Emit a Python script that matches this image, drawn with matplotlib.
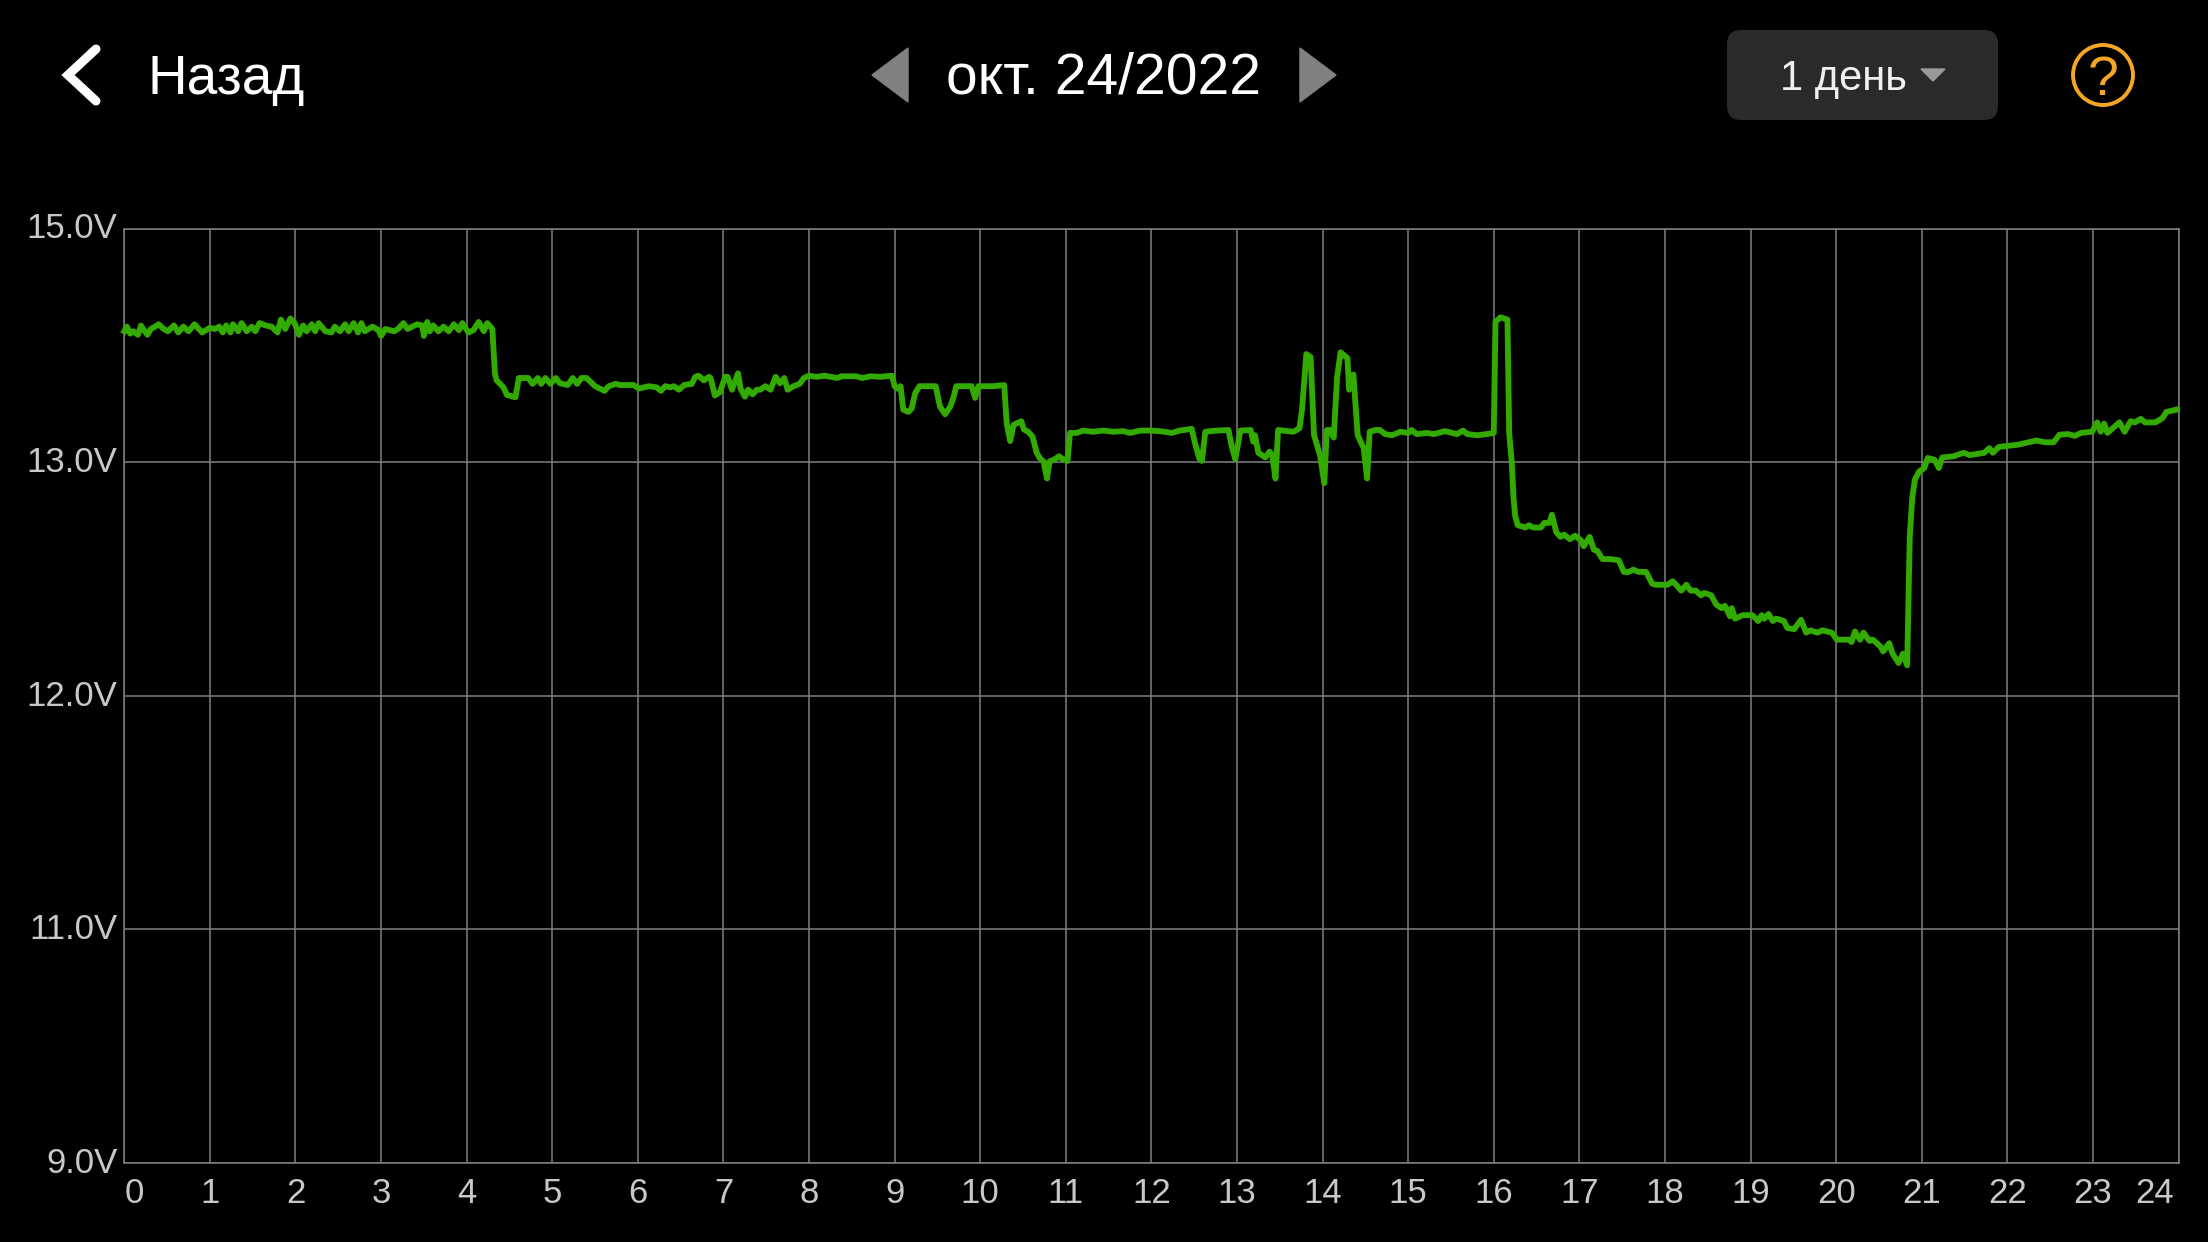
import numpy as np
import matplotlib
matplotlib.use('Agg')
import matplotlib.pyplot as plt
from matplotlib.patches import Circle, FancyBboxPatch, Polygon
from matplotlib.transforms import ScaledTranslation

plt.rcParams['font.family'] = ['Liberation Sans', 'DejaVu Sans']

# battery voltage over the day as (hour, volts)
part_0_4 = [(0.0,14.12),(.03,14.16),(.07,14.10),(.105,14.12),(.16,14.09),(.195,14.17),(.22,14.14),(.27,14.09),
    (.31,14.14),(.36,14.16),(.40,14.18),(.46,14.14),(.51,14.12),(.58,14.17),(.63,14.11),(.69,14.16),(.75,14.12),
    (.82,14.18),(.91,14.11),(1.00,14.15),(1.06,14.14),(1.11,14.16),(1.15,14.11),(1.19,14.17),(1.24,14.11),
    (1.27,14.18),(1.33,14.12),(1.37,14.19),(1.43,14.12),(1.49,14.16),(1.53,14.12),(1.58,14.19),(1.65,14.17),
    (1.72,14.16),(1.79,14.11),(1.83,14.22),(1.88,14.14),(1.94,14.23),(1.99,14.19),(2.04,14.09),(2.09,14.17),
    (2.13,14.12),(2.19,14.18),(2.23,14.12),(2.27,14.19),(2.35,14.12),(2.42,14.11),(2.46,14.16),(2.52,14.12),
    (2.58,14.18),(2.62,14.12),(2.68,14.19),(2.73,14.11),(2.77,14.19),(2.81,14.12),(2.90,14.16),(2.97,14.13),
    (3.00,14.08),(3.05,14.14),(3.15,14.12),(3.20,14.14),(3.26,14.19),(3.31,14.14),(3.42,14.18),(3.48,14.17),
    (3.50,14.08),(3.54,14.20),(3.57,14.12),(3.61,14.17),(3.67,14.12),(3.73,14.16),(3.79,14.12),(3.85,14.18),
    (3.91,14.13),(3.95,14.19),(4.02,14.11),(4.08,14.13),(4.14,14.20),(4.20,14.12),(4.24,14.19),(4.30,14.14)]

part_4_9 = [(4.33,13.76),(4.35,13.70),(4.43,13.64),(4.47,13.575),(4.57,13.555),(4.61,13.72),(4.72,13.72),(4.77,13.67),
    (4.83,13.72),(4.87,13.67),(4.92,13.72),(4.98,13.67),(5.04,13.72),(5.09,13.675),(5.18,13.66),(5.24,13.72),
    (5.29,13.67),(5.34,13.72),(5.40,13.72),(5.50,13.65),(5.61,13.61),(5.66,13.65),(5.74,13.67),(5.79,13.66),
    (5.95,13.66),(6.01,13.63),(6.13,13.65),(6.22,13.64),(6.27,13.61),(6.32,13.65),(6.38,13.64),(6.42,13.65),
    (6.48,13.62),(6.54,13.66),(6.63,13.67),(6.67,13.73),(6.71,13.74),(6.77,13.70),(6.83,13.73),(6.85,13.72),
    (6.90,13.57),(6.96,13.60),(7.02,13.73),(7.05,13.73),(7.10,13.62),(7.17,13.76),(7.20,13.63),(7.25,13.56),
    (7.29,13.62),(7.34,13.58),(7.39,13.62),(7.43,13.62),(7.49,13.65),(7.55,13.62),(7.61,13.73),(7.66,13.675),
    (7.71,13.72),(7.75,13.62),(7.82,13.65),(7.89,13.67),(7.94,13.72),(8.0,13.74),(8.09,13.73),(8.18,13.74),
    (8.33,13.72),(8.38,13.735),(8.55,13.735),(8.62,13.72),(8.72,13.735),(8.83,13.73),(8.97,13.74)]

part_9_13 = [(9.0,13.65),(9.03,13.63),(9.07,13.65),(9.10,13.45),(9.16,13.43),(9.20,13.46),(9.24,13.59),(9.29,13.65),
    (9.36,13.65),(9.48,13.65),(9.53,13.475),(9.59,13.41),(9.65,13.475),(9.69,13.56),(9.72,13.65),(9.90,13.65),
    (9.94,13.55),(9.98,13.65),(10.15,13.65),(10.28,13.66),(10.31,13.33),(10.35,13.18),(10.39,13.32),(10.48,13.35),
    (10.51,13.28),(10.56,13.26),(10.61,13.22),(10.66,13.08),(10.70,13.03),(10.74,13.005),(10.78,12.93),(10.81,13.005),
    (10.87,13.025),(10.92,13.05),(10.97,13.025),(11.02,13.01),(11.05,13.25),(11.13,13.25),(11.20,13.27),(11.32,13.26),
    (11.44,13.27),(11.55,13.26),(11.67,13.265),(11.75,13.25),(11.87,13.27),(11.98,13.27),(12.10,13.265),(12.24,13.25),
    (12.33,13.27),(12.47,13.285),(12.51,13.16),(12.56,13.03),(12.59,13.01),(12.63,13.26),(12.76,13.27),(12.90,13.275),
    (12.94,13.13),(12.98,13.025)]

part_13_16 = [(13.04,13.27),(13.16,13.275),(13.19,13.175),(13.21,13.23),(13.25,13.08),(13.33,13.04),(13.38,13.09),
    (13.41,13.06),(13.45,12.93),(13.48,13.275),(13.66,13.26),(13.73,13.29),(13.76,13.45),(13.81,13.925),(13.86,13.90),
    (13.90,13.23),(13.97,13.06),(14.02,12.91),(14.05,13.275),(14.09,13.275),(14.13,13.21),(14.17,13.73),(14.21,13.94),
    (14.29,13.89),(14.31,13.62),(14.36,13.75),(14.41,13.23),(14.48,13.12),(14.52,12.93),(14.55,13.26),(14.62,13.275),
    (14.67,13.275),(14.73,13.24),(14.81,13.23),(14.91,13.26),(15.0,13.25),(15.04,13.275),(15.10,13.24),(15.22,13.25),
    (15.30,13.24),(15.43,13.265),(15.57,13.24),(15.64,13.27),(15.69,13.24),(15.81,13.23),(15.92,13.24),(16.0,13.25)]

part_16_21 = [(16.02,14.20),(16.08,14.24),(16.16,14.22),(16.18,13.25),(16.21,13.0),(16.23,12.85),(16.25,12.77),
    (16.28,12.73),(16.37,12.72),(16.41,12.73),(16.46,12.72),(16.55,12.72),(16.59,12.74),(16.65,12.74),(16.68,12.775),
    (16.73,12.70),(16.78,12.68),(16.82,12.69),(16.89,12.67),(16.95,12.685),(17.02,12.665),(17.05,12.64),(17.12,12.68),
    (17.17,12.625),(17.21,12.62),(17.27,12.585),(17.36,12.585),(17.46,12.58),(17.52,12.53),(17.58,12.53),(17.63,12.54),
    (17.69,12.53),(17.78,12.53),(17.85,12.48),(17.89,12.475),(18.03,12.475),(18.09,12.49),(18.13,12.475),(18.19,12.45),
    (18.25,12.475),(18.30,12.45),(18.36,12.45),(18.42,12.43),(18.46,12.44),(18.54,12.43),(18.60,12.39),(18.66,12.375),
    (18.70,12.385),(18.76,12.34),(18.78,12.375),(18.82,12.33),(18.91,12.345),(19.02,12.345),(19.09,12.32),(19.13,12.345),
    (19.16,12.33),(19.21,12.35),(19.26,12.32),(19.30,12.33),(19.39,12.32),(19.43,12.29),(19.51,12.285),(19.59,12.325),
    (19.65,12.27),(19.70,12.28),(19.78,12.27),(19.84,12.28),(19.95,12.27),(20.01,12.24),(20.15,12.24),(20.18,12.23),
    (20.22,12.275),(20.28,12.24),(20.32,12.27),(20.39,12.235),(20.43,12.24),(20.52,12.21),(20.55,12.19),(20.62,12.225),
    (20.66,12.18),(20.73,12.14),(20.78,12.18),(20.83,12.13)]

part_21_24 = [(20.86,12.68),(20.89,12.85),(20.92,12.925),(20.97,12.96),(21.03,12.975),(21.07,13.035),(21.15,13.02),
    (21.20,12.975),(21.24,13.04),(21.37,13.05),(21.49,13.08),(21.56,13.06),(21.73,13.08),(21.79,13.12),(21.83,13.08),
    (21.90,13.13),(22.13,13.15),(22.34,13.185),(22.44,13.17),(22.54,13.17),(22.61,13.235),(22.71,13.24),(22.79,13.225),
    (22.86,13.25),(22.99,13.26),(23.05,13.34),(23.09,13.26),(23.13,13.33),(23.17,13.25),(23.31,13.34),(23.37,13.26),
    (23.44,13.35),(23.49,13.34),(23.56,13.37),(23.61,13.34),(23.73,13.34),(23.81,13.375),(23.86,13.43),(23.98,13.45)]

parts = [part_0_4, part_4_9, part_9_13, part_13_16, part_16_21, part_21_24]
hours = [p[0] for part in parts for p in part]
volts = [p[1] for part in parts for p in part]

hour_ticks = list(range(25))
volt_ticks = [9.0, 11.0, 12.0, 13.0, 15.0]

W, H = 2208, 1242
fig = plt.figure(figsize=(W / 100, H / 100), dpi=100, facecolor='black')

# plot area in pixels of the picture
left, right, top, bottom = 124.3, 2178.5, 228.5, 1163

ax = fig.add_axes([left / W, 1 - bottom / H, (right - left) / W, (bottom - top) / H], facecolor='black')

# the app spaces its voltage ticks evenly, so the y scale is piecewise
steps = list(range(len(volt_ticks)))
ax.set_yscale('function', functions=(lambda v: np.interp(v, volt_ticks, steps),
                                     lambda s: np.interp(s, steps, volt_ticks)))
ax.set_xlim(0, 24)
ax.set_ylim(9, 15)
ax.set_xticks(hour_ticks)
ax.set_xticklabels([str(h) for h in hour_ticks])
ax.set_yticks(volt_ticks)
ax.set_yticklabels(['%.1fV' % v for v in volt_ticks])
ax.minorticks_off()
ax.grid(True, color='#7f7f7f', linewidth=1.1)
ax.set_axisbelow(True)
for s in ax.spines.values():
    s.set_color('#7f7f7f')
    s.set_linewidth(1.1)
ax.tick_params(length=0, labelsize=25, labelcolor='#c8c8c8')
ax.tick_params(axis='x', pad=10)
ax.tick_params(axis='y', pad=5)
ax.get_xticklabels()[0].set_ha('left')
last = ax.get_xticklabels()[-1]
last.set_ha('right')
last.set_transform(last.get_transform() + ScaledTranslation(-5 / 100, 0, fig.dpi_scale_trans))
for lab in ax.get_yticklabels():
    lab.set_transform(lab.get_transform() + ScaledTranslation(0, 3 / 100, fig.dpi_scale_trans))

ax.plot(hours, volts, color='#33aa00', linewidth=4.2, solid_joinstyle='round', clip_on=False, zorder=3)

# app header drawn in picture pixels
ui = fig.add_axes([0, 0, 1, 1])
ui.set_xlim(0, W)
ui.set_ylim(H, 0)
ui.axis('off')

ui.plot([96, 68, 96], [49, 75, 101], color='white', linewidth=6.5, solid_capstyle='round', solid_joinstyle='miter')
ui.text(148, 94, 'Назад', color='white', fontsize=39.5, va='baseline', ha='left')

ui.add_patch(Polygon([[908, 48], [872, 75], [908, 102]], color='#808080'))
ui.add_patch(Polygon([[1300, 48], [1336, 75], [1300, 102]], color='#808080'))
ui.text(1104, 94, 'окт. 24/2022', color='white', fontsize=41, va='baseline', ha='center')

ui.add_patch(FancyBboxPatch((1741, 44), 243, 62, boxstyle='round,pad=14,rounding_size=14', color='#2a2a2a', linewidth=0))
ui.text(1780, 90, '1 день', color='#f0f0f0', fontsize=30, va='baseline', ha='left')
ui.add_patch(Polygon([[1921, 69], [1945, 69], [1933, 81]], color='#999999'))

ui.add_patch(Circle((2103, 75), 30, fill=False, edgecolor='#f5a623', linewidth=2.8))
ui.text(2103, 95, '?', color='#f5a623', fontsize=40, va='baseline', ha='center')

fig.savefig('out.png', dpi=100, facecolor='black')
